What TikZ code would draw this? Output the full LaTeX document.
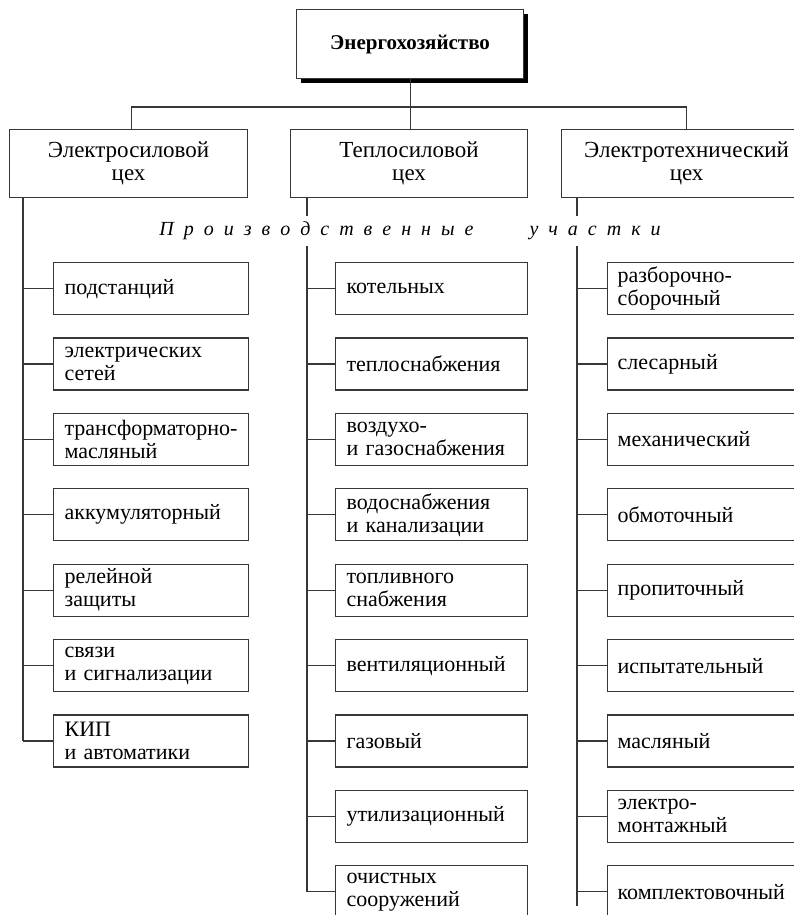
\documentclass[tikz,border=0pt]{standalone}
\usepackage{fontspec}
\setmainfont{Liberation Serif}
\usetikzlibrary{shadows}
\definecolor{lc}{RGB}{55,55,55}
\newcommand\myls{\hspace{10pt}}
\begin{document}
\begin{tikzpicture}[x=1pt,y=-1pt,
  ln/.style={draw=lc, line width=1.2pt},
  topbox/.style={draw=lc, line width=1.2pt, fill=white, anchor=north west,
    minimum width=227pt, minimum height=69pt, inner sep=0pt,
    font=\fontsize{21}{24}\selectfont\bfseries,
    general shadow={fill=black, shadow xshift=4.5pt, shadow yshift=-4.5pt}},
  hdr/.style={draw=lc, line width=1.2pt, fill=white, anchor=north west,
    minimum height=68pt, align=center, inner sep=0pt,
    font=\fontsize{23}{23}\selectfont},
  unit/.style={draw=lc, line width=1.2pt, fill=white, anchor=north west,
    minimum height=52pt, align=left, inner xsep=11pt, inner ysep=0pt,
    font=\fontsize{22}{23}\selectfont},
  unitL/.style={unit, text width=173pt},
  unitM/.style={unit, text width=170pt},
  unitR/.style={unit, inner xsep=10pt, text width=183pt},
]
\useasboundingbox (0,0) rectangle (794,915);
\clip (0,0) rectangle (794,915);

% top
\node[topbox] (top) at (296,9) {\raisebox{2pt}{Энергохозяйство}};

% headers
\node[hdr, minimum width=238pt] (h1) at (9,129) {Электросиловой\\цех};
\node[hdr, minimum width=237pt] (h2) at (290,129) {Теплосиловой\\цех};
\node[hdr, minimum width=250pt] (h3) at (561,129) {Электротехнический\\цех};

\coordinate (bus) at (0,107);
\draw[ln] (top.south) -- (top.south |- h2.north);
\draw[ln] ([xshift=3pt]h1.north) -- ([xshift=3pt]h1.north |- bus) -- (h3.north |- bus) -- (h3.north);

% caption
\node[inner sep=0pt, minimum height=29pt, font=\fontsize{20}{22}\selectfont\itshape] (pu) at (410,231)
  {П\myls р\myls о\myls и\myls з\myls в\myls о\myls д\myls с\myls т\myls в\myls е\myls н\myls н\myls ы\myls е\hspace{56pt}у\myls ч\myls а\myls с\myls т\myls к\myls и};

% left column
\foreach \t [count=\i] in {подстанций, {электрических\\сетей}, {трансформаторно-\\масляный},
  аккумуляторный, {релейной\\защиты}, {связи\\и сигнализации}, {КИП\\и автоматики}}
  {\node[unitL] (l\i) at (53,{262+75.4*(\i-1)}) {\t};}

% middle column
\foreach \t [count=\i] in {котельных, теплоснабжения, {воздухо-\\и газоснабжения},
  {водоснабжения\\и канализации}, {топливного\\снабжения}, вентиляционный, газовый,
  утилизационный, {очистных\\сооружений}}
  {\node[unitM] (m\i) at (335,{262+75.4*(\i-1)}) {\t};}

% right column
\foreach \t [count=\i] in {{разборочно-\\сборочный}, слесарный, механический, обмоточный,
  пропиточный, испытательный, масляный, {электро-\\монтажный}, комплектовочный}
  {\node[unitR] (r\i) at (607,{262+75.4*(\i-1)}) {\t};}

% stems
\coordinate (ls) at ([xshift=14pt]h1.south west);
\coordinate (ms) at ([xshift=17pt]h2.south west);
\coordinate (rs) at ([xshift=16pt]h3.south west);

\draw[ln] (ls) -- (ls |- l7.west);
\draw[ln] (ms) -- (ms |- pu.north);
\draw[ln] (ms |- pu.south) -- (ms |- m9.west);
\draw[ln] (rs) -- (rs |- pu.north);
\draw[ln] (rs |- pu.south) -- ([yshift=-14pt]rs |- r9.west);

\foreach \i in {1,...,7} {\draw[ln] (ls |- l\i.west) -- (l\i.west);}
\foreach \i in {1,...,9} {\draw[ln] (ms |- m\i.west) -- (m\i.west);}
\foreach \i in {1,...,9} {\draw[ln] (rs |- r\i.west) -- (r\i.west);}
\end{tikzpicture}
\end{document}
